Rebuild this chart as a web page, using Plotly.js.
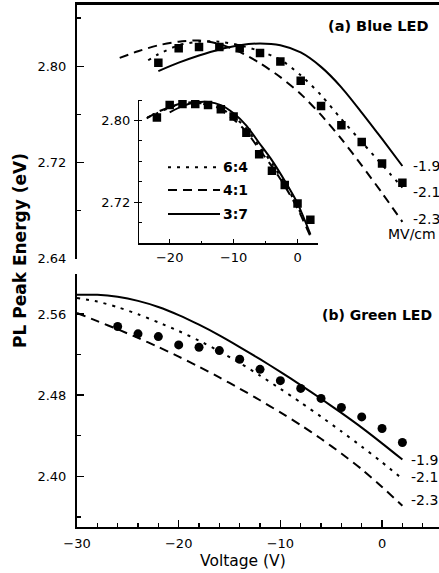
<!DOCTYPE html>
<html><head><meta charset="utf-8">
<script src="https://cdn.plot.ly/plotly-3.0.1.min.js"></script>
<style>html,body{margin:0;padding:0;background:#fff}#chart{width:439px;height:573px}</style>
</head><body><div id="chart"></div>
<script>
// ---------- data ----------
// (a) Blue LED measured PL peak
const blueVolts = [-22,-20,-18,-16,-14,-12,-10,-8,-6,-4,-2,0,2];
const bluePeak  = [2.803,2.815,2.816,2.816,2.815,2.811,2.804,2.788,2.767,2.751,2.737,2.719,2.703];
// (a) calculated curves for fields -1.9, -2.1, -2.3 MV/cm
const blueF19V = [-22,-20,-18,-16,-14,-12,-10,-8,-6,-4,-2,0,2];
const blueF19E = [2.796,2.803,2.809,2.814,2.8175,2.819,2.8175,2.8115,2.7995,2.7825,2.7615,2.7395,2.717];
const blueF21V = [-23,-22,-20,-18,-16,-14,-12,-10,-8,-6,-4,-2,0,2];
const blueF21E = [2.805,2.810,2.8175,2.8205,2.8205,2.8175,2.8125,2.8055,2.7925,2.776,2.756,2.737,2.718,2.699];
const blueF23V = [-25.8,-24,-22,-20,-18,-16,-14,-12,-10,-8,-6,-4,-2,0,2];
const blueF23E = [2.807,2.8125,2.8175,2.8205,2.8215,2.8185,2.812,2.8025,2.791,2.777,2.7595,2.7395,2.7175,2.6945,2.6705];
// inset: curves for In ratios 6:4, 4:1, 3:7
const inset64V = [-23.5,-22,-20,-18,-16,-14,-12,-10,-8,-6,-4,-2,0,2];
const inset64E = [2.803,2.807,2.8125,2.8165,2.8175,2.8155,2.8115,2.804,2.792,2.775,2.758,2.738,2.716,2.688];
const inset41V = [-23.6,-22,-20,-18,-16,-14,-12,-10,-8,-6,-4,-2,0,2];
const inset41E = [2.802,2.808,2.813,2.817,2.8175,2.815,2.810,2.801,2.789,2.772,2.755,2.736,2.714,2.687];
const inset37V = [-20,-18,-16,-14,-12,-10,-8,-6,-4,-2,0,2];
const inset37E = [2.808,2.814,2.8175,2.818,2.815,2.807,2.795,2.778,2.761,2.741,2.719,2.689];
// (b) Green LED measured PL peak
const greenVolts = [-26,-24,-22,-20,-18,-16,-14,-12,-10,-8,-6,-4,-2,0,2];
const greenPeak  = [2.5477,2.5405,2.5378,2.5296,2.5273,2.524,2.5154,2.5055,2.4943,2.4867,2.4768,2.4679,2.4586,2.4471,2.4333];
// (b) calculated curves
const greenFitV  = [-30,-28,-26,-24,-22,-20,-18,-16,-14,-12,-10,-8,-6,-4,-2,0,2];
const greenF19E  = [2.579,2.579,2.577,2.573,2.567,2.559,2.5495,2.539,2.5275,2.5155,2.503,2.490,2.4765,2.4625,2.448,2.4325,2.4165];
const greenF21E  = [2.5758,2.5723,2.5668,2.5598,2.5518,2.5433,2.5338,2.5233,2.5118,2.4993,2.4863,2.4728,2.4588,2.4443,2.4293,2.4138,2.3975];
const greenF23E  = [2.561,2.553,2.545,2.5365,2.5275,2.518,2.508,2.4975,2.4865,2.475,2.463,2.4505,2.437,2.4225,2.407,2.3895,2.371];

const fieldLabels = ['-1.9','-2.1','-2.3'];
const fieldUnit = 'MV/cm';
const ratioLabels = ['6:4','4:1','3:7'];
const panelTitles = ['(a) Blue LED','(b) Green LED'];
const xTitle = 'Voltage (V)';
const yTitle = 'PL Peak Energy (eV)';

// ---------- styling ----------
const W = 439, H = 573;
const px = v => v / W, py = v => 1 - v / H;
const FONT = 'DejaVu Sans';
const DOT = '3px,6px', DASH = '9px,6px';
const fieldDash = ['solid', DOT, DASH];
const ratioDash = [DOT, DASH, 'solid'];
const LW = 2;

function line(x, y, dash, xa, ya) {
  return {x, y, xaxis: xa, yaxis: ya, type: 'scatter', mode: 'lines',
    line: {color: '#000', width: LW, dash, shape: 'spline', smoothing: 0.7},
    showlegend: false, hoverinfo: 'skip'};
}
function pts(x, y, symbol, size, xa, ya) {
  return {x, y, xaxis: xa, yaxis: ya, type: 'scatter', mode: 'markers',
    marker: {symbol, size, color: '#000'}, showlegend: false, hoverinfo: 'skip'};
}

const blueFits = [[blueF19V, blueF19E], [blueF21V, blueF21E], [blueF23V, blueF23E]];
const greenFits = [[greenFitV, greenF19E], [greenFitV, greenF21E], [greenFitV, greenF23E]];
const insetFits = [[inset64V, inset64E], [inset41V, inset41E], [inset37V, inset37E]];

const traces = [];
blueFits.forEach((f, i) => traces.push(line(f[0], f[1], fieldDash[i], 'x2', 'y2')));
traces.push(pts(blueVolts, bluePeak, 'square', 8.5, 'x2', 'y2'));
insetFits.forEach((f, i) => traces.push(line(f[0], f[1], ratioDash[i], 'x3', 'y3')));
traces.push(pts(blueVolts, bluePeak, 'square', 8.5, 'x3', 'y3'));
greenFits.forEach((f, i) => traces.push(line(f[0], f[1], fieldDash[i], 'x', 'y')));
traces.push(pts(greenVolts, greenPeak, 'circle', 9, 'x', 'y'));

const tickFont = {family: FONT, size: 13, color: '#000'};
const base = {showgrid: false, zeroline: false, linecolor: '#000', tickcolor: '#000',
  tickfont: tickFont, fixedrange: true};

const xDomain = [px(77), 1];
const xRange = [-30, 5.6];

const layout = {
  width: W, height: H, margin: {l: 0, r: 0, t: 0, b: 0},
  paper_bgcolor: '#fff', plot_bgcolor: 'rgba(0,0,0,0)', showlegend: false,
  font: {family: FONT, color: '#000'},
  // (b) panel
  xaxis: Object.assign({}, base, {domain: xDomain, range: xRange, anchor: 'y',
    showline: true, linewidth: 2, ticks: 'inside', ticklen: 7, tickwidth: 1.5,
    tick0: -30, dtick: 10, ticklabelstandoff: 3,
    minor: {ticks: 'inside', ticklen: 4, tickwidth: 1.5, tick0: -30, dtick: 2, tickcolor: '#000'}}),
  yaxis: Object.assign({}, base, {domain: [py(527), py(273.5)], range: [2.35, 2.60], anchor: 'x',
    showline: true, linewidth: 2, ticks: 'inside', ticklen: 7, tickwidth: 1.5,
    tick0: 2.40, dtick: 0.08, tickformat: '.2f', ticklabelstandoff: 6,
    minor: {ticks: 'inside', ticklen: 4, tickwidth: 1.5, tick0: 2.40, dtick: 0.04, tickcolor: '#000'}}),
  // (a) panel
  xaxis2: Object.assign({}, base, {domain: xDomain, range: xRange, anchor: 'y2', side: 'top',
    showline: true, linewidth: 3, ticks: '', showticklabels: false}),
  yaxis2: Object.assign({}, base, {domain: [py(258.5), py(5)], range: [2.64, 2.851], anchor: 'x2',
    showline: true, linewidth: 2, ticks: 'inside', ticklen: 7, tickwidth: 1.5,
    tick0: 2.64, dtick: 0.08, tickformat: '.2f', ticklabelstandoff: 6,
    minor: {ticks: 'inside', ticklen: 4, tickwidth: 1.5, tick0: 2.64, dtick: 0.04, tickcolor: '#000'}}),
  // inset
  xaxis3: Object.assign({}, base, {domain: [px(139), px(318)], range: [-24.8, 3.2], anchor: 'y3',
    showline: true, linewidth: 1.2, ticks: 'inside', ticklen: 4, tickwidth: 1,
    tick0: -20, dtick: 10, ticklabelstandoff: 2,
    minor: {ticks: 'inside', ticklen: 2.5, tickwidth: 1, tick0: -20, dtick: 5, tickcolor: '#000'}}),
  yaxis3: Object.assign({}, base, {domain: [py(243.3), py(100)], range: [2.68, 2.82], anchor: 'x3',
    showline: true, linewidth: 1.2, ticks: 'outside', ticklen: 4, tickwidth: 1,
    tick0: 2.72, dtick: 0.08, tickformat: '.2f', ticklabelstandoff: 1,
    minor: {ticks: 'inside', ticklen: 3, tickwidth: 1, tick0: 2.72, dtick: 0.02, tickcolor: '#000'}}),
  annotations: [],
  shapes: []
};

const ann = layout.annotations;
const C = {xanchor: 'center', yanchor: 'middle', showarrow: false};
// axis titles
ann.push(Object.assign({text: yTitle, xref: 'paper', yref: 'paper', x: px(20), y: py(251), textangle: -90,
  font: {family: FONT, size: 17, weight: 'bold', color: '#000'}}, C));
ann.push(Object.assign({text: xTitle, xref: 'paper', yref: 'paper', x: px(243), y: py(561),
  font: {family: FONT, size: 15.5, color: '#000'}}, C));
// panel titles
ann.push(Object.assign({text: panelTitles[0], xref: 'paper', yref: 'paper', x: px(378), y: py(26),
  font: {family: FONT, size: 14.5, weight: 'bold', color: '#000'}}, C));
ann.push(Object.assign({text: panelTitles[1], xref: 'paper', yref: 'paper', x: px(377), y: py(315),
  font: {family: FONT, size: 14, weight: 'bold', color: '#000'}}, C));
// field labels at curve ends
const blueShifts = [0, -4, 3], greenShifts = [0, 2, 6];
blueFits.forEach((f, i) => ann.push({text: fieldLabels[i], xref: 'x2', yref: 'y2',
  x: f[0][f[0].length - 1], y: f[1][f[1].length - 1], xanchor: 'left', yanchor: 'middle', xshift: 9, yshift: blueShifts[i],
  showarrow: false, font: {family: FONT, size: 14, color: '#000'}}));
greenFits.forEach((f, i) => ann.push({text: fieldLabels[i], xref: 'x', yref: 'y',
  x: f[0][f[0].length - 1], y: f[1][f[1].length - 1], xanchor: 'left', yanchor: 'middle', xshift: 7, yshift: greenShifts[i],
  showarrow: false, font: {family: FONT, size: 14, color: '#000'}}));
ann.push({text: fieldUnit, xref: 'paper', yref: 'paper', x: px(386), y: py(233.5), xanchor: 'left', yanchor: 'middle',
  showarrow: false, font: {family: FONT, size: 14, color: '#000'}});
// inset legend
const legY = [167.3, 190, 214];
ratioLabels.forEach((lab, i) => {
  layout.shapes.push({type: 'line', xref: 'paper', yref: 'paper', x0: px(168), x1: px(220),
    y0: py(legY[i]), y1: py(legY[i]), line: {color: '#000', width: LW, dash: ratioDash[i]}});
  ann.push({text: lab, xref: 'paper', yref: 'paper', x: px(221), y: py(legY[i]), xanchor: 'left', yanchor: 'middle',
    showarrow: false, font: {family: FONT, size: 14, weight: 'bold', color: '#000'}});
});

Plotly.newPlot('chart', traces, layout, {staticPlot: true, displayModeBar: false});
</script>
</body></html>
